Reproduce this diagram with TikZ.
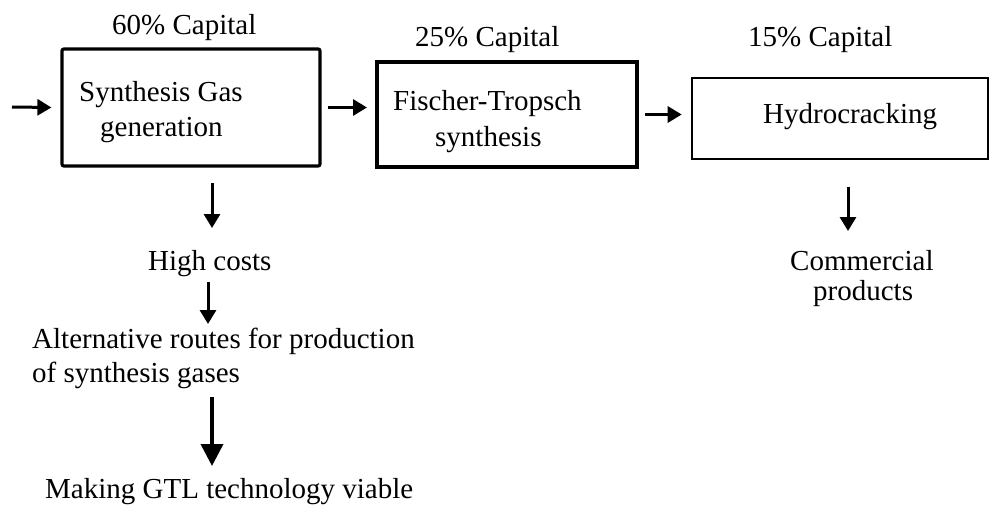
\documentclass[tikz,border=0pt]{standalone}
\usepackage{fontspec}
\setmainfont{Liberation Serif}
\usetikzlibrary{arrows.meta}
\begin{document}
\begin{tikzpicture}[x=1pt,y=-1pt,
  lbl/.style={anchor=base west,inner sep=0pt,font=\fontsize{29}{34}\selectfont},
  box/.style={draw,rectangle,inner sep=0pt},
  arr/.style={line width=3pt,-{Triangle[length=14pt,width=16pt]}},
  bigarr/.style={line width=3.6pt,-{Triangle[length=22pt,width=22pt]}}]
\useasboundingbox (0,0) rectangle (991,508);
% boxes
\node[box,line width=3.2pt,rounded corners=2pt,minimum width=258pt,minimum height=117pt] (b1) at (191,107.5) {};
\node[box,line width=4pt,minimum width=260pt,minimum height=105pt] (b2) at (507,114.5) {};
\node[box,line width=2.6pt,minimum width=296pt,minimum height=81pt] (b3) at (840,118.5) {};
% labels
\node[lbl] (cap1) at (112,35) {60\% Capital};
\node[lbl] (cap2) at (415,47) {25\% Capital};
\node[lbl] (cap3) at (748,47) {15\% Capital};
\node[lbl] (t1a) at (79,102) {Synthesis Gas};
\node[lbl] (t1b) at (100,137) {generation};
\node[lbl] (t2a) at (393,111) {Fischer-Tropsch};
\node[lbl] (t2b) at (435,147) {synthesis};
\node[lbl] (t3) at (763,124) {Hydrocracking};
\node[lbl] (c1) at (790,270) {Commercial};
\node[lbl] (c2) at (813,300) {products};
\node[lbl] (hc) at (148,270) {High costs};
\node[lbl] (a1) at (32,348) {Alternative routes for production};
\node[lbl] (a2) at (32,382) {of synthesis gases};
\node[lbl] (mk) at (45,498) {Making GTL technology viable};
% connectors
\coordinate (in) at (12,107);
\draw[arr] (in) -- ([xshift=-9pt]b1.west);
\draw[arr,shorten <=6pt,shorten >=8pt] (b1.east) -- (b1.east -| b2.west);
\draw[arr,shorten <=6pt,shorten >=9pt] (b2.east) -- (b2.east -| b3.west);
\coordinate (d1s) at (212,183);
\coordinate (d1e) at (212,228);
\draw[arr] (d1s) -- (d1e);
\coordinate (d2s) at (208,282);
\coordinate (d2e) at (208,324);
\draw[arr] (d2s) -- (d2e);
\coordinate (d3s) at (212,397);
\coordinate (d3e) at (212,466);
\draw[bigarr] (d3s) -- (d3e);
\coordinate (d4s) at (848,187);
\coordinate (d4e) at (848,231);
\draw[arr] (d4s) -- (d4e);
\end{tikzpicture}
\end{document}
